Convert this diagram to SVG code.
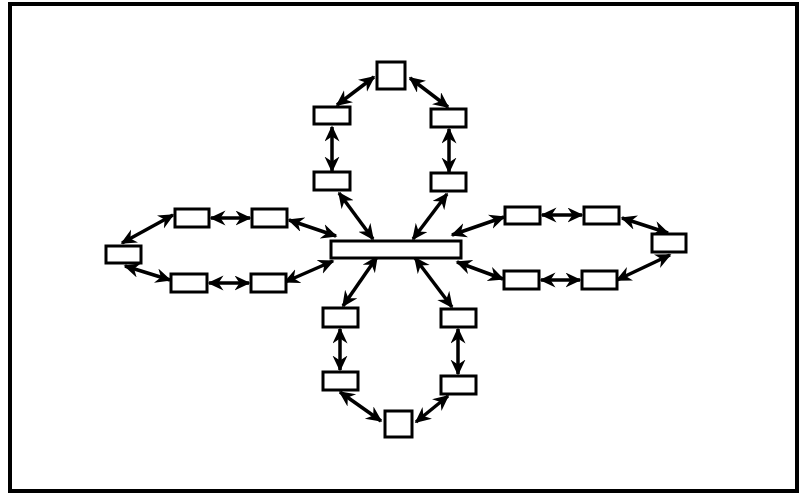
<svg xmlns="http://www.w3.org/2000/svg" width="799" height="493" viewBox="0 0 799 493">
<style>
.node{fill:#fff;stroke:#000;stroke-width:3}
.frame{fill:#fff;stroke:#000;stroke-width:4}
.c{stroke:#000;stroke-width:3.5;fill:none;marker-start:url(#ah);marker-end:url(#ah)}
</style>
<defs>
<marker id="ah" markerUnits="userSpaceOnUse" markerWidth="18" markerHeight="16" refX="14.5" refY="7.5" orient="auto-start-reverse" viewBox="0 0 18 16">
<path d="M0,0 L16,7.5 L0,15 L5,7.5 Z" fill="#000"/>
</marker>
</defs>
<rect class="frame" x="10" y="4" width="787" height="487"/>
<g id="connectors">
<line class="c" x1="337" y1="105" x2="374" y2="77"/>
<line class="c" x1="410" y1="78" x2="448" y2="107"/>
<line class="c" x1="332" y1="127" x2="332" y2="171"/>
<line class="c" x1="449" y1="129" x2="449" y2="172"/>
<line class="c" x1="339" y1="193" x2="373" y2="239"/>
<line class="c" x1="447" y1="194" x2="413" y2="239"/>
<line class="c" x1="122" y1="243" x2="173" y2="215"/>
<line class="c" x1="211" y1="218" x2="250" y2="218"/>
<line class="c" x1="289" y1="220" x2="336" y2="236"/>
<line class="c" x1="125" y1="266" x2="170" y2="280"/>
<line class="c" x1="209" y1="283" x2="249" y2="283"/>
<line class="c" x1="285" y1="282" x2="333" y2="261"/>
<line class="c" x1="452" y1="235" x2="504" y2="217"/>
<line class="c" x1="542" y1="215" x2="582" y2="215"/>
<line class="c" x1="622" y1="218" x2="668" y2="233"/>
<line class="c" x1="670" y1="255" x2="617" y2="280"/>
<line class="c" x1="457" y1="262" x2="503" y2="279"/>
<line class="c" x1="541" y1="280" x2="580" y2="280"/>
<line class="c" x1="377" y1="257" x2="343" y2="306"/>
<line class="c" x1="415" y1="258" x2="452" y2="307"/>
<line class="c" x1="340" y1="329" x2="340" y2="370"/>
<line class="c" x1="458" y1="329" x2="458" y2="374"/>
<line class="c" x1="340" y1="392" x2="381" y2="421"/>
<line class="c" x1="448" y1="396" x2="416" y2="422"/>
</g>
<g id="center"><rect class="node" x="331" y="241" width="130" height="17"/></g>
<g id="top-square"><rect class="node" x="377" y="62" width="28" height="27"/></g>
<g id="top-ul"><rect class="node" x="314" y="107" width="36" height="17"/></g>
<g id="top-ur"><rect class="node" x="431" y="109" width="35" height="18"/></g>
<g id="top-ll"><rect class="node" x="314" y="172" width="36" height="18"/></g>
<g id="top-lr"><rect class="node" x="431" y="173" width="35" height="18"/></g>
<g id="left-end"><rect class="node" x="106" y="246" width="35" height="17"/></g>
<g id="left-ul"><rect class="node" x="175" y="209" width="34" height="18"/></g>
<g id="left-ur"><rect class="node" x="252" y="209" width="35" height="18"/></g>
<g id="left-ll"><rect class="node" x="171" y="274" width="36" height="18"/></g>
<g id="left-lr"><rect class="node" x="251" y="274" width="35" height="18"/></g>
<g id="right-ul"><rect class="node" x="505" y="207" width="35" height="17"/></g>
<g id="right-ur"><rect class="node" x="584" y="207" width="35" height="17"/></g>
<g id="right-end"><rect class="node" x="652" y="234" width="34" height="18"/></g>
<g id="right-ll"><rect class="node" x="504" y="271" width="35" height="18"/></g>
<g id="right-lr"><rect class="node" x="582" y="271" width="35" height="18"/></g>
<g id="bottom-ul"><rect class="node" x="323" y="308" width="35" height="19"/></g>
<g id="bottom-ur"><rect class="node" x="441" y="309" width="35" height="18"/></g>
<g id="bottom-ll"><rect class="node" x="323" y="372" width="35" height="18"/></g>
<g id="bottom-lr"><rect class="node" x="441" y="376" width="35" height="18"/></g>
<g id="bottom-square"><rect class="node" x="385" y="411" width="27" height="26"/></g>
</svg>
